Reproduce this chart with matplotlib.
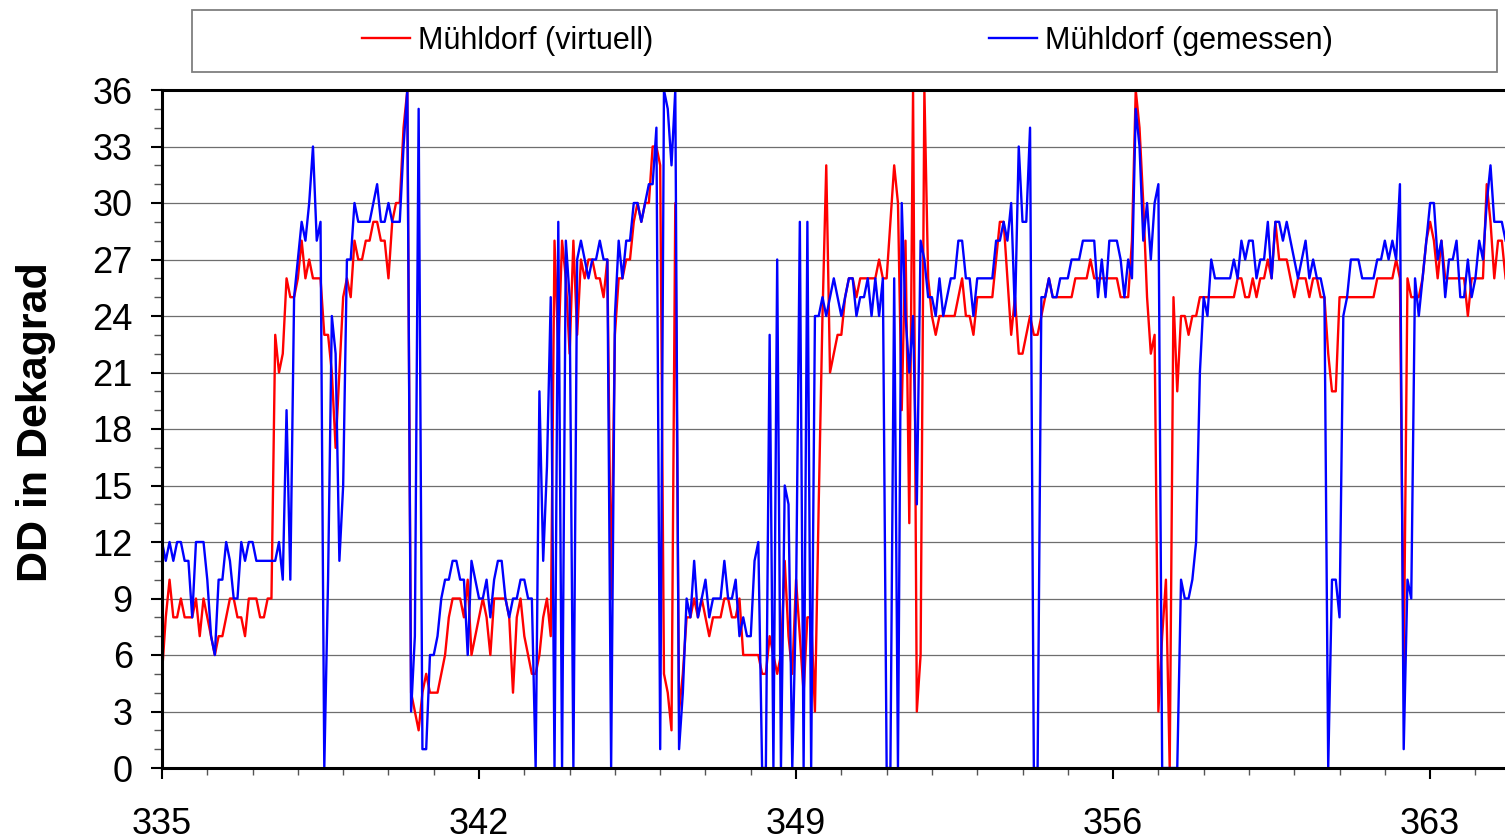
import numpy as np
import matplotlib
matplotlib.use("Agg")
import matplotlib.pyplot as plt
from matplotlib.patches import Rectangle
from matplotlib.ticker import MultipleLocator

plt.rcParams["font.family"] = ["Liberation Sans", "DejaVu Sans"]

# ---------------------------------------------------------------
# Wind direction (DD, in decadegrees), 2-hour steps from day 335
# ---------------------------------------------------------------
start_day = 335
steps_per_day = 12

virtuell = [
    5, 8, 10, 8, 8, 9, 8, 8, 8, 9, 7, 9,            # 335
    8, 7, 6, 7, 7, 8, 9, 9, 8, 8, 7, 9,             # 336
    9, 9, 8, 8, 9, 9, 23, 21, 22, 26, 25, 25,       # 337
    26, 28, 26, 27, 26, 26, 26, 23, 23, 21, 17, 21,  # 338
    25, 26, 25, 28, 27, 27, 28, 28, 29, 29, 28, 28,  # 339
    26, 29, 30, 30, 34, 36, 4, 3, 2, 4, 5, 4,       # 340
    4, 4, 5, 6, 8, 9, 9, 9, 8, 10, 6, 7,            # 341
    8, 9, 8, 6, 9, 9, 9, 9, 8, 4, 8, 9,             # 342
    7, 6, 5, 5, 6, 8, 9, 7, 28, 22, 28, 26,         # 343
    22, 28, 23, 27, 26, 27, 27, 26, 26, 25, 27, 9,  # 344
    23, 26, 26, 27, 27, 29, 30, 29, 30, 30, 33, 33,  # 345
    32, 5, 4, 2, 30, 3, 5, 8, 8, 9, 8, 9,           # 346
    8, 7, 8, 8, 8, 9, 9, 8, 8, 9, 6, 6,             # 347
    6, 6, 6, 5, 5, 7, 6, 5, 6, 11, 7, 5,            # 348
    10, 7, 4, 8, 8, 3, 14, 24, 32, 21, 22, 23,      # 349
    23, 25, 26, 26, 25, 26, 26, 26, 26, 26, 27, 26,  # 350
    26, 29, 32, 30, 19, 28, 13, 36, 3, 6, 36, 26,   # 351
    24, 23, 24, 24, 24, 24, 24, 25, 26, 24, 24, 23,  # 352
    25, 25, 25, 25, 25, 27, 29, 29, 26, 23, 25, 22,  # 353
    22, 23, 24, 23, 23, 24, 25, 26, 25, 25, 25, 25,  # 354
    25, 25, 26, 26, 26, 26, 27, 26, 26, 26, 26, 26,  # 355
    26, 26, 25, 25, 25, 28, 36, 34, 30, 25, 22, 23,  # 356
    3, 7, 10, 0, 25, 20, 24, 24, 23, 24, 24, 25,    # 357
    25, 25, 25, 25, 25, 25, 25, 25, 25, 26, 26, 25,  # 358
    25, 26, 25, 26, 26, 27, 26, 29, 27, 27, 27, 26,  # 359
    25, 26, 26, 26, 25, 26, 26, 25, 25, 22, 20, 20,  # 360
    25, 25, 25, 25, 25, 25, 25, 25, 25, 25, 26, 26,  # 361
    26, 26, 26, 27, 26, 5, 26, 25, 25, 25, 26, 28,  # 362
    29, 28, 26, 28, 26, 26, 26, 26, 26, 26, 24, 26,  # 363
    26, 26, 26, 31, 29, 26, 28, 28, 26,             # 364
]

gemessen = [
    12, 11, 12, 11, 12, 12, 11, 11, 8, 12, 12, 12,   # 335
    10, 7, 6, 10, 10, 12, 11, 9, 9, 12, 11, 12,      # 336
    12, 11, 11, 11, 11, 11, 11, 12, 10, 19, 10, 25,  # 337
    27, 29, 28, 30, 33, 28, 29, 0, 10, 24, 22, 11,   # 338
    15, 27, 27, 30, 29, 29, 29, 29, 30, 31, 29, 29,  # 339
    30, 29, 29, 29, 33, 36, 3, 7, 35, 1, 1, 6,       # 340
    6, 7, 9, 10, 10, 11, 11, 10, 10, 6, 11, 10,      # 341
    9, 9, 10, 8, 10, 11, 11, 9, 8, 9, 9, 10,         # 342
    10, 9, 9, 0, 20, 11, 16, 25, 0, 29, 0, 28,       # 343
    25, 0, 27, 28, 27, 26, 27, 27, 28, 27, 27, 0,    # 344
    24, 28, 26, 28, 28, 30, 30, 29, 30, 31, 31, 34,  # 345
    1, 36, 35, 32, 36, 1, 4, 9, 8, 11, 8, 9,         # 346
    10, 8, 9, 9, 9, 11, 9, 9, 10, 7, 8, 7,           # 347
    7, 11, 12, 0, 0, 23, 0, 27, 0, 15, 14, 0,        # 348
    9, 29, 0, 29, 0, 24, 24, 25, 24, 25, 26, 25,     # 349
    24, 25, 26, 26, 24, 25, 25, 26, 24, 26, 24, 26,  # 350
    0, 0, 26, 0, 30, 24, 21, 24, 14, 28, 27, 25,     # 351
    25, 24, 26, 24, 25, 26, 26, 28, 28, 26, 26, 24,  # 352
    26, 26, 26, 26, 26, 28, 28, 29, 28, 30, 24, 33,  # 353
    29, 29, 34, 0, 0, 25, 25, 26, 25, 25, 26, 26,    # 354
    26, 27, 27, 27, 28, 28, 28, 28, 25, 27, 25, 28,  # 355
    28, 28, 27, 25, 27, 26, 35, 33, 28, 30, 27, 30,  # 356
    31, 0, 0, 0, 0, 0, 10, 9, 9, 10, 12, 21,         # 357
    25, 24, 27, 26, 26, 26, 26, 26, 27, 26, 28, 27,  # 358
    28, 28, 26, 27, 27, 29, 26, 29, 29, 28, 29, 28,  # 359
    27, 26, 27, 28, 26, 27, 26, 26, 25, 0, 10, 10,   # 360
    8, 24, 25, 27, 27, 27, 26, 26, 26, 26, 27, 27,   # 361
    28, 27, 28, 27, 31, 1, 10, 9, 26, 24, 26, 28,    # 362
    30, 30, 27, 28, 25, 27, 27, 28, 25, 25, 27, 25,  # 363
    26, 28, 27, 30, 32, 29, 29, 29, 28,              # 364
]

x_ticks = [335, 342, 349, 356, 363]
y_ticks = list(range(0, 37, 3))
series_labels = ["Mühldorf (virtuell)", "Mühldorf (gemessen)"]
series_colors = ["#ff0000", "#0000ff"]

days = start_day + np.arange(len(virtuell)) / steps_per_day

W, H = 1505, 840
fig = plt.figure(figsize=(W / 100, H / 100), dpi=100)
# axis runs to day 365, the last part falls off the right edge
ax = fig.add_axes([162 / W, 72 / H, 30 * 45.29 / W, 678 / H])

handles = []
for values, color, label in zip([virtuell, gemessen], series_colors, series_labels):
    line, = ax.plot(days, values, color=color, lw=1.7, label=label)
    handles.append(line)

ax.set_xlim(335, 365)
ax.set_ylim(0, 36)
ax.set_xticks(x_ticks)
ax.xaxis.set_minor_locator(MultipleLocator(1))
ax.set_yticks(y_ticks)
ax.yaxis.set_minor_locator(MultipleLocator(1))

ax.yaxis.grid(True, which="major", color="#6e6e6e", lw=0.9)
ax.set_axisbelow(True)

for side in ["left", "bottom", "top"]:
    ax.spines[side].set_linewidth(2.2)
ax.spines["right"].set_visible(False)

ax.tick_params(axis="both", which="both", direction="out", labelsize=26)
ax.tick_params(axis="y", which="major", length=8, width=1.5, pad=13)
ax.tick_params(axis="y", which="minor", length=5.5, width=1.0, color="#555555")
ax.tick_params(axis="x", which="major", length=8, width=1.5, pad=20)
ax.tick_params(axis="x", which="minor", length=5, width=1.0, color="#555555")
ax.tick_params(axis="both", which="both", top=False, right=False)

ax.set_ylabel("DD in Dekagrad", fontsize=31, fontweight="bold")
ax.yaxis.set_label_coords(-0.078, 0.51)

# legend sits in its own box above the plot
fig.patches.append(Rectangle((192 / W, 1 - 72 / H), (1497 - 192) / W, 62 / H,
                             transform=fig.transFigure, fill=False,
                             edgecolor="#7f7f7f", lw=1.3))
fig.legend(handles=handles, labels=series_labels, loc="center",
           bbox_to_anchor=(0.563, 1 - 41 / H), ncol=2, frameon=False,
           fontsize=22, handlelength=1.57, handletextpad=0.26,
           columnspacing=11.0)

fig.savefig("out.png", dpi=100)
